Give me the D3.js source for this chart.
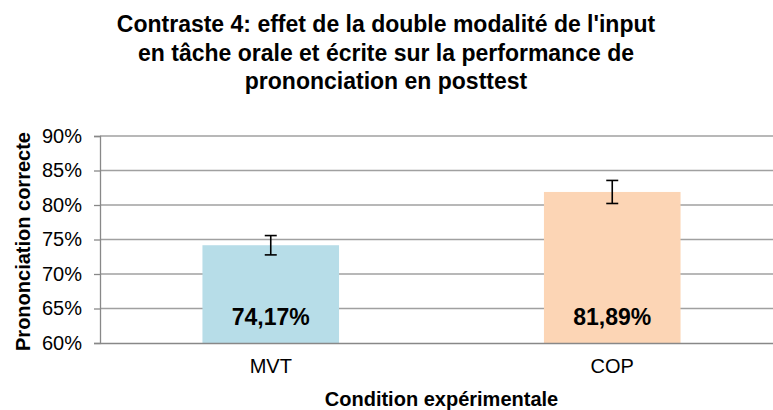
<!DOCTYPE html>
<html><head><meta charset="utf-8">
<script src="https://cdn.jsdelivr.net/npm/d3@7"></script>
<style>body{margin:0;background:#fff}svg{display:block}text{font-family:"Liberation Sans",Arial,sans-serif}</style>
</head><body>
<svg id="c" width="773" height="410"></svg>
<script>
const categories = ["MVT", "COP"];
const values = [0.7417, 0.8189];
const errors = [0.014, 0.0167];
const valueLabels = ["74,17%", "81,89%"];
const yTicks = [0.6, 0.65, 0.7, 0.75, 0.8, 0.85, 0.9];
const titleLines = ["Contraste 4: effet de la double modalité de l'input", "en tâche orale et écrite sur la performance de", "prononciation en posttest"];
const colors = ["#b7dde8", "#fcd5b5"];

const svg = d3.select("#c");
const L = 100, R = 783, T = 136, B = 343;
const x = d3.scaleBand().domain(categories).range([L, R]).paddingInner(0.6).paddingOuter(0.3);
const y = d3.scaleLinear().domain([0.6, 0.9]).range([B, T]);

// gridlines
svg.append("g").selectAll("line").data(yTicks.slice(1)).join("line")
  .attr("x1", L).attr("x2", R).attr("y1", d => y(d)).attr("y2", d => y(d))
  .attr("stroke", "#a0a0a0").attr("stroke-width", 1.3);

// bars
svg.append("g").selectAll("rect").data(categories).join("rect")
  .attr("x", d => x(d)).attr("width", x.bandwidth())
  .attr("y", (d, i) => y(values[i])).attr("height", (d, i) => B - y(values[i]))
  .attr("fill", (d, i) => colors[i]);

// y axis
const yAxis = d3.axisLeft(y).tickValues(yTicks).tickFormat(d3.format(".0%")).tickSize(6).tickPadding(12);
const gy = svg.append("g").attr("transform", `translate(${L},0)`).call(yAxis);
gy.select(".domain").attr("stroke", "#888").attr("stroke-width", 1.3);
gy.selectAll(".tick line").attr("stroke", "#888").attr("stroke-width", 1.3);
gy.selectAll(".tick text").attr("font-size", 20).attr("fill", "#000").style("font-family", "Liberation Sans, Arial, sans-serif");

// x axis
const xAxis = d3.axisBottom(x).tickSize(0).tickPadding(16);
const gx = svg.append("g").attr("transform", `translate(0,${B})`).call(xAxis);
gx.select(".domain").attr("stroke", "#888").attr("stroke-width", 1.3);
gx.selectAll(".tick text").attr("font-size", 20).attr("fill", "#000").style("font-family", "Liberation Sans, Arial, sans-serif");

// error bars
const eg = svg.append("g").attr("stroke", "#000").attr("stroke-width", 1.6);
categories.forEach((c, i) => {
  const cx = x(c) + x.bandwidth() / 2;
  const y1 = y(values[i] + errors[i]), y2 = y(values[i] - errors[i]);
  eg.append("line").attr("x1", cx).attr("x2", cx).attr("y1", y1).attr("y2", y2);
  eg.append("line").attr("x1", cx - 6).attr("x2", cx + 6).attr("y1", y1).attr("y2", y1);
  eg.append("line").attr("x1", cx - 6).attr("x2", cx + 6).attr("y1", y2).attr("y2", y2);
});

// value labels
svg.append("g").selectAll("text").data(categories).join("text")
  .attr("x", d => x(d) + x.bandwidth() / 2).attr("y", 325)
  .attr("text-anchor", "middle").attr("font-size", 23).attr("font-weight", "bold")
  .text((d, i) => valueLabels[i]);

// title
svg.append("g").selectAll("text").data(titleLines).join("text")
  .attr("x", 386).attr("y", (d, i) => 32 + i * 28.5)
  .attr("text-anchor", "middle").attr("font-size", 23).attr("font-weight", "bold")
  .text(d => d);

// axis titles
svg.append("text").attr("x", (L + R) / 2).attr("y", 406).attr("text-anchor", "middle")
  .attr("font-size", 20).attr("font-weight", "bold").text("Condition expérimentale");
svg.append("text").attr("transform", `translate(30,${(T + B) / 2 + 2}) rotate(-90)`).attr("text-anchor", "middle")
  .attr("font-size", 20).attr("font-weight", "bold").text("Prononciation correcte");
</script>
</body></html>
